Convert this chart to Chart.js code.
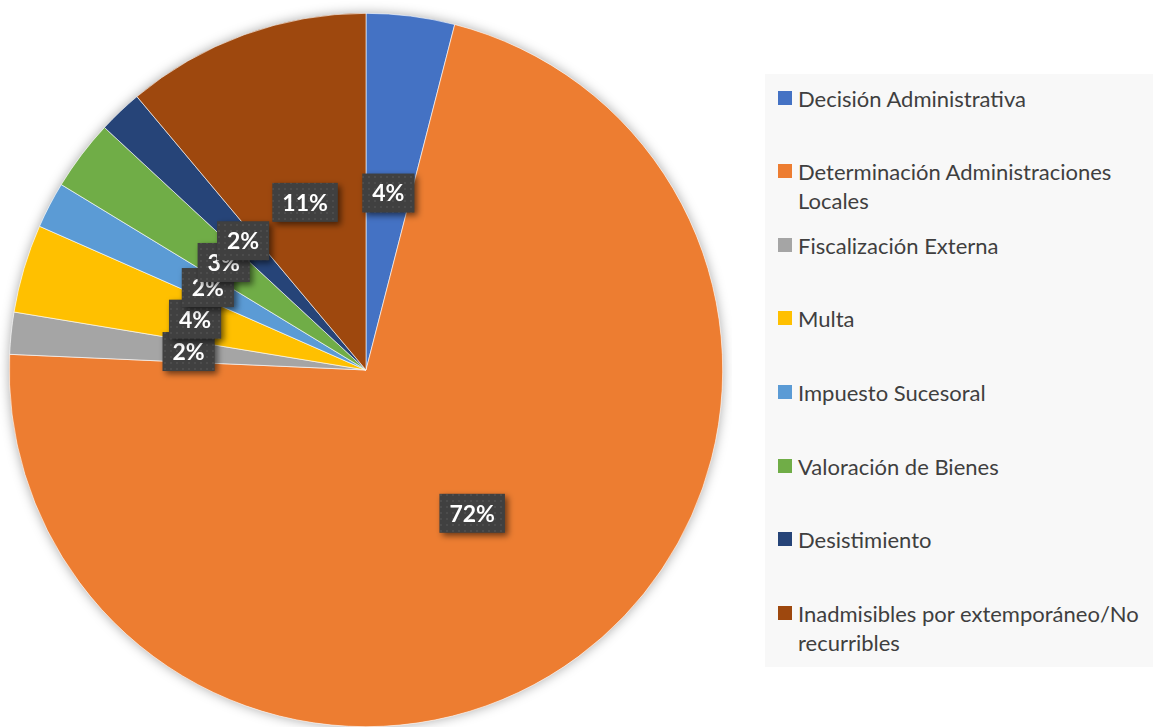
<!DOCTYPE html>
<html lang="es">
<head>
<meta charset="UTF-8" />
<title>Recursos por tipo</title>
<script src="https://cdn.jsdelivr.net/npm/chart.js"></script>
<style>
  html, body {
    margin: 0;
    padding: 0;
    background: #ffffff;
    width: 1153px;
    height: 727px;
    overflow: hidden;
    font-family: 'Lato', 'Open Sans', sans-serif;
  }
  #chartBox {
    position: absolute;
    left: 0;
    top: 0;
    width: 732px;
    height: 727px;
  }
  #legend {
    position: absolute;
    left: 765px;
    top: 74px;
    width: 388px;
    height: 593px;
    background: #f8f8f8;
  }
  .item {
    position: absolute;
    left: 0;
    width: 384px;
  }
  .item .swatch {
    position: absolute;
    left: 13px;
    top: 7px;
    width: 14px;
    height: 14px;
  }
  .item .text {
    margin-left: 33px;
    font-size: 22px;
    line-height: 29px;
    color: #3f3f3f;
  }
</style>
</head>
<body>
<div id="chartBox"><canvas id="pie"></canvas></div>
<div id="legend"></div>

<script>
// categories and shares (%)
const categories = [
  'Decisión Administrativa',
  'Determinación Administraciones Locales',
  'Fiscalización Externa',
  'Multa',
  'Impuesto Sucesoral',
  'Valoración de Bienes',
  'Desistimiento',
  'Inadmisibles por extemporáneo/No recurribles'
];
const shares = [4.0, 71.7, 1.9, 4.0, 2.1, 3.2, 2.0, 11.1];
const colors = ['#4472C4', '#ED7D31', '#A5A5A5', '#FFC000', '#5B9BD5', '#70AD47', '#264478', '#9E480E'];

// dotted dark fill used behind the data labels
function labelPattern(ctx) {
  const tile = document.createElement('canvas');
  tile.width = 6;
  tile.height = 6;
  const t = tile.getContext('2d');
  t.fillStyle = '#404040';
  t.fillRect(0, 0, 6, 6);
  t.fillStyle = '#4c4c4c';
  t.fillRect(2, 2, 2, 2);
  return ctx.createPattern(tile, 'repeat');
}

// soft shadow round the whole pie
const pieShadow = {
  id: 'pieShadow',
  beforeDatasetsDraw(chart) {
    const arc = chart.getDatasetMeta(0).data[0];
    if (!arc) return;
    const ctx = chart.ctx;
    ctx.save();
    ctx.shadowColor = 'rgba(0,0,0,0.35)';
    ctx.shadowBlur = 12;
    ctx.fillStyle = '#ffffff';
    ctx.beginPath();
    ctx.arc(arc.x, arc.y, arc.outerRadius, 0, Math.PI * 2);
    ctx.fill();
    ctx.restore();
  }
};

// percentage boxes at the middle of each slice
const boxLabels = {
  id: 'boxLabels',
  afterDatasetsDraw(chart) {
    const ctx = chart.ctx;
    const fill = labelPattern(ctx);
    const meta = chart.getDatasetMeta(0);
    ctx.save();
    ctx.font = 'bold 23px Lato, "Open Sans", sans-serif';
    ctx.textAlign = 'center';
    ctx.textBaseline = 'middle';
    meta.data.forEach((arc, i) => {
      const p = arc.tooltipPosition();
      const txt = Math.round(shares[i]) + '%';
      const w = ctx.measureText(txt).width + 20;
      const h = 39;
      ctx.save();
      ctx.shadowColor = 'rgba(0,0,0,0.55)';
      ctx.shadowBlur = 6;
      ctx.shadowOffsetX = 3;
      ctx.shadowOffsetY = 3;
      ctx.fillStyle = fill;
      ctx.fillRect(p.x - w / 2, p.y - h / 2, w, h);
      ctx.restore();
      ctx.fillStyle = '#ffffff';
      ctx.fillText(txt, p.x, p.y + 1);
    });
    ctx.restore();
  }
};

new Chart(document.getElementById('pie'), {
  type: 'pie',
  data: {
    labels: categories,
    datasets: [{
      data: shares,
      backgroundColor: colors,
      borderColor: '#ffffff',
      borderWidth: 0.6
    }]
  },
  options: {
    responsive: true,
    maintainAspectRatio: false,
    animation: false,
    layout: { padding: { top: 13 } },
    plugins: {
      legend: { display: false },
      tooltip: { enabled: false }
    }
  },
  plugins: [pieShadow, boxLabels]
});

// legend built from the same arrays
const legend = document.getElementById('legend');
categories.forEach((name, i) => {
  const item = document.createElement('div');
  item.className = 'item';
  item.style.top = (9.5 + i * 73.6) + 'px';
  item.innerHTML = '<div class="swatch" style="background:' + colors[i] + '"></div><div class="text">' + name + '</div>';
  legend.appendChild(item);
});
</script>
</body>
</html>
